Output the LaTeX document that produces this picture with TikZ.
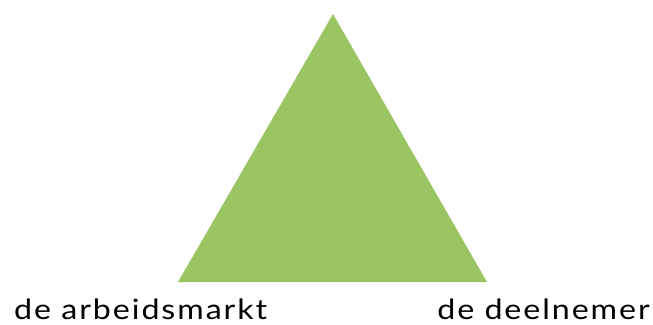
\documentclass[tikz,border=0pt]{standalone}
\usepackage{fontspec}
\setmainfont{Lato}
\definecolor{trigreen}{HTML}{9BC563}
\begin{document}
\begin{tikzpicture}[x=1pt,y=1pt,
  lbl/.style={font=\fontsize{28}{32}\selectfont\addfontfeature{LetterSpace=6}, inner sep=0pt, text=black, xscale=1.15}]
\useasboundingbox (0,0) rectangle (653,324);
\coordinate (apex) at (333,310);
\coordinate (bl) at (178,42);
\coordinate (br) at (487,42);
\fill[trigreen] (apex) -- (br) -- (bl) -- cycle;
\node[lbl, anchor=base west] (arb) at (14,5) {de arbeidsmarkt};
\node[lbl, anchor=base east] (deel) at (650,5) {de deelnemer};
\end{tikzpicture}
\end{document}
